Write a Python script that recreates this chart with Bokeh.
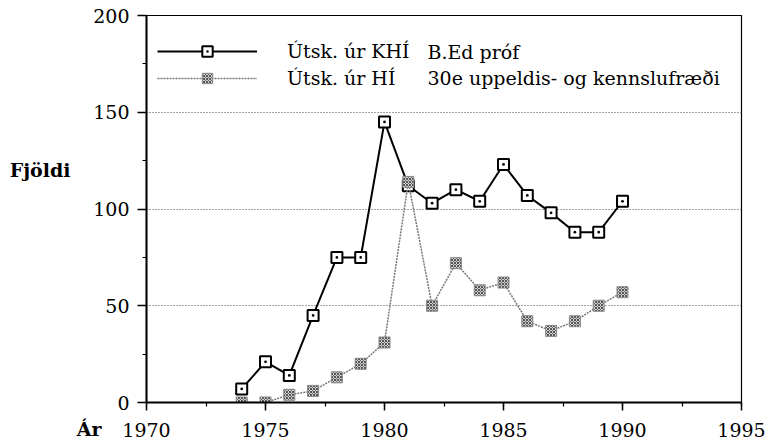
from bokeh.plotting import figure
from bokeh.models import (Range1d, SingleIntervalTicker, FixedTicker, LinearAxis,
                          Legend, LegendItem, Label)
from bokeh.embed import file_html
from bokeh.resources import INLINE

# ---- data ----
years = [1974, 1975, 1976, 1977, 1978, 1979, 1980, 1981, 1982, 1983, 1984,
         1985, 1986, 1987, 1988, 1989, 1990]
khi = [7, 21, 14, 45, 75, 75, 145, 112, 103, 110, 104, 123, 107, 98, 88, 88, 104]
hi = [0, 0, 4, 6, 13, 20, 31, 114, 50, 72, 58, 62, 42, 37, 42, 50, 57]
series_labels = ["Útsk. úr KHÍ", "Útsk. úr HÍ"]
series_notes = ["B.Ed próf", "30e uppeldis- og kennslufræði"]
y_label = "Fjöldi"
x_label = "Ár"

FONT = "DejaVu Serif"
FS = "19px"

p = figure(width=766, height=444, output_backend="svg", toolbar_location=None,
           x_range=Range1d(1970, 1995), y_range=Range1d(0, 200),
           min_border_left=146, min_border_right=25, min_border_top=15,
           min_border_bottom=42)

p.background_fill_color = "white"
p.border_fill_color = "white"
p.outline_line_color = "black"
p.outline_line_width = 1.2

# axes
p.xaxis.ticker = SingleIntervalTicker(interval=5, num_minor_ticks=2)
p.yaxis.ticker = SingleIntervalTicker(interval=50, num_minor_ticks=2)
for ax in (p.xaxis[0], p.yaxis[0]):
    ax.axis_line_color = "black"
    ax.axis_line_width = 2
    ax.major_tick_line_color = "black"
    ax.major_tick_line_width = 1.5
    ax.minor_tick_line_color = "black"
    ax.minor_tick_line_width = 1.2
    ax.major_tick_in = 0
    ax.minor_tick_in = 0
    ax.major_label_text_font = FONT
    ax.major_label_text_font_size = FS
    ax.major_label_text_color = "black"
p.xaxis.major_tick_out = 8
p.xaxis.minor_tick_out = 4
p.xaxis.major_label_standoff = 12
p.yaxis.major_tick_out = 9
p.yaxis.minor_tick_out = 4
p.yaxis.major_label_standoff = 8

# extra (label-only) axes on the left for the axis titles
def label_axis(tick, text, standoff, baseline, line_height=1.2):
    ax = LinearAxis(ticker=FixedTicker(ticks=[tick]),
                    major_label_overrides={tick: text},
                    axis_line_color=None, major_tick_line_color=None,
                    minor_tick_line_color=None, major_tick_out=0, major_tick_in=0,
                    major_label_standoff=standoff,
                    major_label_text_font=FONT,
                    major_label_text_font_size=FS,
                    major_label_text_font_style="bold",
                    major_label_text_color="black",
                    major_label_text_baseline=baseline,
                    major_label_text_line_height=line_height)
    p.add_layout(ax, "left")
    return ax

label_axis(0, "\n" + x_label, -11, "top", 2.4)
label_axis(120, y_label, 3, "middle")

p.xgrid.visible = False
p.ygrid.grid_line_color = "#444444"
p.ygrid.grid_line_dash = "1 2"
p.ygrid.grid_line_width = 1

# series (HÍ drawn on top, as in the original)
r1_line = p.line(years, khi, line_color="black", line_width=2)
r1_pts = p.scatter(years, khi, marker="square_dot", size=11, fill_color="white",
                   line_color="black", line_width=2)
r2_line = p.line(years, hi, line_color="#777777", line_width=1.5, line_dash="2 1")
r2_pts = p.scatter(years, hi, marker="square", size=11, fill_color="#d0d0d0",
                   line_color="#888888", line_width=1,
                   hatch_pattern="diagonal_cross", hatch_color="#555555",
                   hatch_scale=3, hatch_weight=1)

legend = Legend(items=[LegendItem(label=series_labels[0], renderers=[r1_line, r1_pts]),
                       LegendItem(label=series_labels[1], renderers=[r2_line, r2_pts])],
                location=(11, 311), glyph_width=100, glyph_height=26,
                label_height=26, label_standoff=30, spacing=1, padding=0,
                margin=0, border_line_alpha=0, background_fill_alpha=0,
                label_text_font=FONT, label_text_font_size=FS,
                label_text_color="black")
p.add_layout(legend)

for note, yy in zip(series_notes, [351, 325]):
    p.add_layout(Label(x=281, y=yy, x_units="screen", y_units="screen",
                       text=note, text_font=FONT, text_font_size=FS,
                       text_baseline="middle", text_color="black"))

open("out.html", "w").write(file_html(p, INLINE))
